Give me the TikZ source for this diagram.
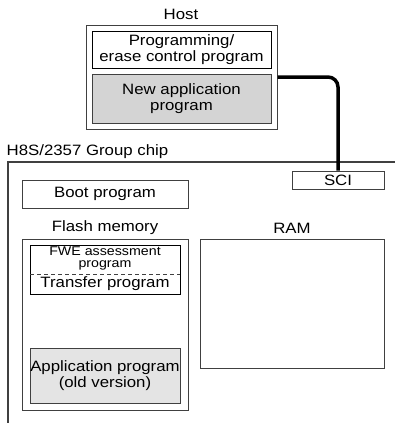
\documentclass[tikz,border=0pt]{standalone}
\usepackage{fontspec}
\setmainfont{Liberation Sans}[FakeStretch=1.12]
\definecolor{edge}{HTML}{404040}
\definecolor{fillA}{HTML}{D4D4D4}
\definecolor{fillB}{HTML}{E4E4E4}
\begin{document}
\begin{tikzpicture}[x=1pt,y=-1pt,
  box/.style={draw=edge,line width=1pt,inner sep=0pt,align=center,
    font=\fontsize{15}{16.5}\selectfont},
  lbl/.style={inner sep=0pt,font=\fontsize{15}{16.5}\selectfont},
  link/.style={line width=3.5pt,rounded corners=10pt}]
\useasboundingbox (0,0) rectangle (395,423);
% Host
\node[lbl] (hostlbl) at (181,14) {Host};
\node[box,minimum width=191pt,minimum height=104pt] (host) at (181.5,77) {};
\node[box,draw=black,minimum width=179pt,minimum height=37pt] (prog) at (181.5,49.5)
  {Programming/\\erase control program};
\node[box,fill=fillA,minimum width=179pt,minimum height=49pt] (newapp) at (181.5,98.5)
  {New application\\program};
% Chip
\node[lbl,anchor=west] (chiplbl) at (6.5,152) {H8S/2357 Group chip};
\coordinate (chipTL) at (8,162);
\coordinate (chipTR) at (395,162);
\coordinate (chipBL) at (8,423);
\draw[draw=edge,line width=1.3pt] (chipTR) -- (chipTL) -- (chipBL);
\node[box,minimum width=92pt,minimum height=18pt] (sci) at (338,180) {SCI};
\node[box,minimum width=166pt,minimum height=28pt] (boot) at (105,194) {Boot program};
\node[lbl] (flashlbl) at (105,228) {Flash memory};
\node[lbl] (ramlbl) at (292,228) {RAM};
\node[box,minimum width=166pt,minimum height=171pt] (flash) at (105,324.5) {};
\node[box,draw=black,minimum width=150pt,minimum height=49pt] (fwe) at (105,269.5) {};
\node[inner sep=0pt,align=center,font=\fontsize{12.7}{12.3}\selectfont] (fwetext) at (105,258.5)
  {FWE assessment\\program};
\node[lbl] (transfer) at (105,284) {Transfer program};
\coordinate (dashL) at (30,274);
\coordinate (dashR) at (180,274);
\draw[draw=edge,line width=0.8pt,dash pattern=on 4pt off 3pt] (dashL) -- (dashR);
\node[box,fill=fillB,minimum width=150pt,minimum height=55pt] (app) at (105,375.5)
  {Application program\\(old version)};
\node[box,minimum width=184pt,minimum height=129pt] (ram) at (292,303.5) {};
% Connector
\draw[link] (host.east) -| (sci.north);
\end{tikzpicture}
\end{document}
